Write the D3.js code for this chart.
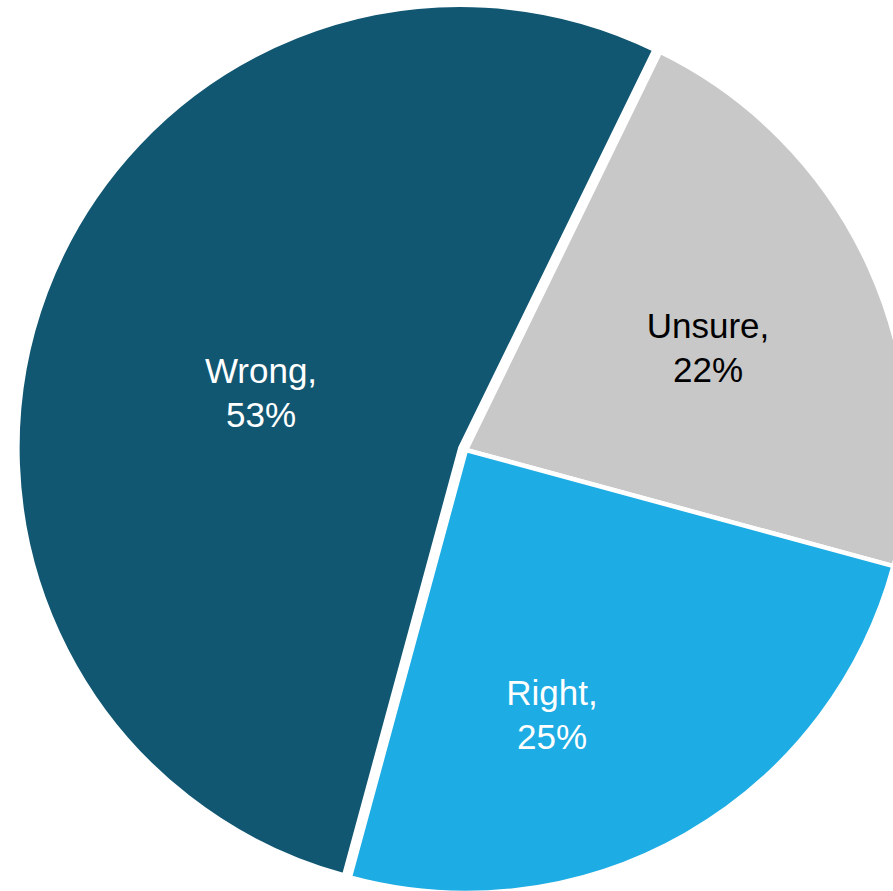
<!DOCTYPE html>
<html>
<head>
<meta charset="utf-8">
<script src="https://cdn.jsdelivr.net/npm/d3@7"></script>
<style>
  html, body { margin: 0; padding: 0; background: #ffffff; overflow: hidden; }
  svg { display: block; }
</style>
</head>
<body>
<svg id="chart" width="893" height="891"></svg>
<script>
// ---- data ----
const categories = ["Unsure", "Right", "Wrong"];
const values = [22, 25, 53];
const percentLabels = ["22%", "25%", "53%"];

// ---- styles / layout ----
const sliceColors = ["#C8C8C8", "#1DACE3", "#115772"];
const textColors = ["#000000", "#ffffff", "#ffffff"];
const explode = { Wrong: 6 };
// label centre offsets from pie centre (Excel best-fit placement)
const labelOffset = { Unsure: [242, -103], Right: [86, 264], Wrong: [-205, -58] };

const W = 893, H = 891;
const cx = 466, cy = 450, R = 443;
const startDeg = 26;

const svg = d3.select("#chart");
const g = svg.append("g").attr("transform", `translate(${cx},${cy})`);

const pie = d3.pie()
  .sort(null)
  .value(d => d.value)
  .startAngle(startDeg * Math.PI / 180)
  .endAngle(startDeg * Math.PI / 180 + 2 * Math.PI);

const data = categories.map((c, i) => ({ name: c, value: values[i], pct: percentLabels[i], i }));
const arcs = pie(data);

const arc = d3.arc().innerRadius(0).outerRadius(R);

g.selectAll("path.slice")
  .data(arcs)
  .join("path")
  .attr("class", "slice")
  .attr("d", arc)
  .attr("fill", d => sliceColors[d.data.i])
  .attr("stroke", "#ffffff")
  .attr("stroke-width", 4.5)
  .attr("stroke-linejoin", "miter")
  .attr("transform", d => {
    const e = explode[d.data.name] || 0;
    const mid = (d.startAngle + d.endAngle) / 2;
    return `translate(${e * Math.sin(mid)},${-e * Math.cos(mid)})`;
  });

const labels = g.selectAll("text.lbl")
  .data(arcs)
  .join("text")
  .attr("class", "lbl")
  .attr("text-anchor", "middle")
  .attr("font-family", "'Liberation Sans', Arial, sans-serif")
  .attr("font-size", 35)
  .attr("fill", d => textColors[d.data.i]);

labels.each(function(d) {
  const [dx, dy] = labelOffset[d.data.name];
  const t = d3.select(this);
  t.append("tspan").attr("x", dx).attr("y", dy - 9).text(d.data.name + ",");
  t.append("tspan").attr("x", dx).attr("y", dy + 35).text(d.data.pct);
});
</script>
</body>
</html>
